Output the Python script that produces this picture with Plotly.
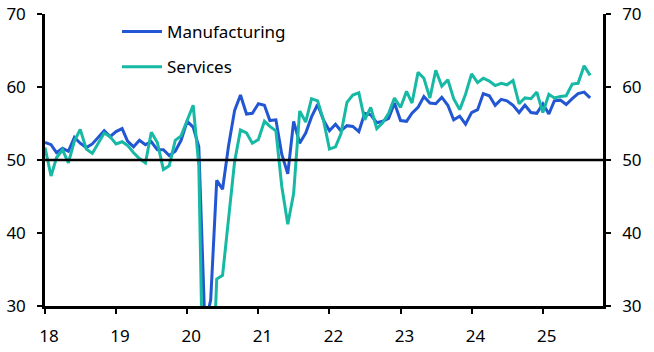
import pandas as pd
import plotly.graph_objects as go

# Monthly PMI readings, Jan 2018 - Sep 2025
manufacturing = [
    52.4, 52.1, 51.0, 51.6, 51.2, 53.1, 52.3, 51.7, 52.2, 53.1, 54.0, 53.2,  # 2018
    53.9, 54.3, 52.6, 51.8, 52.7, 52.1, 52.5, 51.4, 51.4, 50.6, 51.2, 52.7,  # 2019
    55.3, 54.5, 51.8, 27.4, 30.8, 47.2, 46.0, 52.0, 56.8, 58.9, 56.3, 56.4,  # 2020
    57.7, 57.5, 55.4, 55.5, 50.8, 48.1, 55.3, 52.3, 53.7, 55.9, 57.6, 55.5,  # 2021
    54.0, 54.9, 54.0, 54.7, 54.6, 53.9, 56.4, 56.2, 55.1, 55.3, 55.7, 57.8,  # 2022
    55.4, 55.3, 56.4, 57.2, 58.7, 57.8, 57.7, 58.6, 57.5, 55.5, 56.0, 54.9,  # 2023
    56.5, 56.9, 59.1, 58.8, 57.5, 58.3, 58.1, 57.5, 56.5, 57.5, 56.5, 56.4,  # 2024
    57.7, 56.3, 58.1, 58.2, 57.6, 58.4, 59.1, 59.3, 58.5,                    # 2025
]
services = [
    51.7, 47.8, 50.3, 51.4, 49.6, 52.6, 54.2, 51.5, 50.9, 52.2, 53.7, 53.2,  # 2018
    52.2, 52.5, 52.0, 51.0, 50.2, 49.6, 53.8, 52.4, 48.7, 49.2, 52.7, 53.3,  # 2019
    55.5, 57.5, 49.3, 5.4, 12.6, 33.7, 34.2, 41.8, 49.8, 54.1, 53.7, 52.3,   # 2020
    52.8, 55.3, 54.6, 54.0, 46.4, 41.2, 45.4, 56.7, 55.2, 58.4, 58.1, 55.5,  # 2021
    51.5, 51.8, 53.6, 57.9, 58.9, 59.2, 55.5, 57.2, 54.3, 55.1, 56.4, 58.5,  # 2022
    57.2, 59.4, 57.8, 62.0, 61.2, 58.5, 62.3, 60.1, 61.0, 58.4, 56.9, 59.0,  # 2023
    61.8, 60.6, 61.2, 60.8, 60.2, 60.5, 60.3, 60.9, 57.7, 58.5, 58.4, 59.3,  # 2024
    56.5, 59.0, 58.5, 58.7, 58.8, 60.4, 60.5, 62.9, 61.6,                    # 2025
]
months = pd.date_range("2018-01-01", periods=len(manufacturing), freq="MS")

y_ticks = [30, 40, 50, 60, 70]
x_range = ["2018-01-01", "2025-11-06"]
y_range = [30, 70]

BLUE = "#2256d2"
TEAL = "#17b9a5"
FONT = "Noto Sans"

fig = go.Figure()
fig.add_trace(go.Scatter(x=months, y=manufacturing, name="Manufacturing",
                         legendgroup="m", mode="lines",
                         line=dict(color=BLUE, width=3)))
fig.add_trace(go.Scatter(x=months, y=services, name="Services",
                         legendgroup="s", mode="lines",
                         line=dict(color=TEAL, width=3)))
# invisible trace to carry the right-hand axis
fig.add_trace(go.Scatter(x=months, y=services, yaxis="y2", mode="lines",
                         line=dict(color="rgba(0,0,0,0)", width=0),
                         showlegend=False, hoverinfo="skip"))

fig.add_hline(y=50, line=dict(color="black", width=2.5), layer="above")

axis_common = dict(range=y_range, tickvals=y_ticks, showgrid=False, zeroline=False,
                   showline=True, linecolor="black", linewidth=2.5,
                   ticks="outside", ticklen=5, tickwidth=2, tickcolor="black",
                   automargin=False,
                   tickfont=dict(family=FONT, size=17, color="black"))

fig.update_layout(
    width=654, height=352,
    margin=dict(l=45, r=51, t=14, b=46),
    paper_bgcolor="white", plot_bgcolor="white",
    font=dict(family=FONT, size=17, color="black"),
    xaxis=dict(type="date", range=x_range, tick0="2018-01-01", dtick="M12",
               tickformat="%y", showgrid=False, zeroline=False,
               showline=True, linecolor="black", linewidth=2.5,
               ticks="outside", ticklen=5, tickwidth=2, tickcolor="black",
               automargin=False,
               tickfont=dict(family=FONT, size=17, color="black"),
               ticklabelshift=4, ticklabelstandoff=8),
    yaxis=dict(**axis_common, side="left", ticklabelstandoff=8),
    yaxis2=dict(**axis_common, side="right", overlaying="y", ticklabelstandoff=8),
    legend=dict(x=0.129, y=1.0, xanchor="left", yanchor="top",
                bgcolor="rgba(0,0,0,0)", font=dict(family=FONT, size=17),
                traceorder="grouped", itemwidth=40, tracegroupgap=10),
    showlegend=True,
)

fig.write_html("out.html")
